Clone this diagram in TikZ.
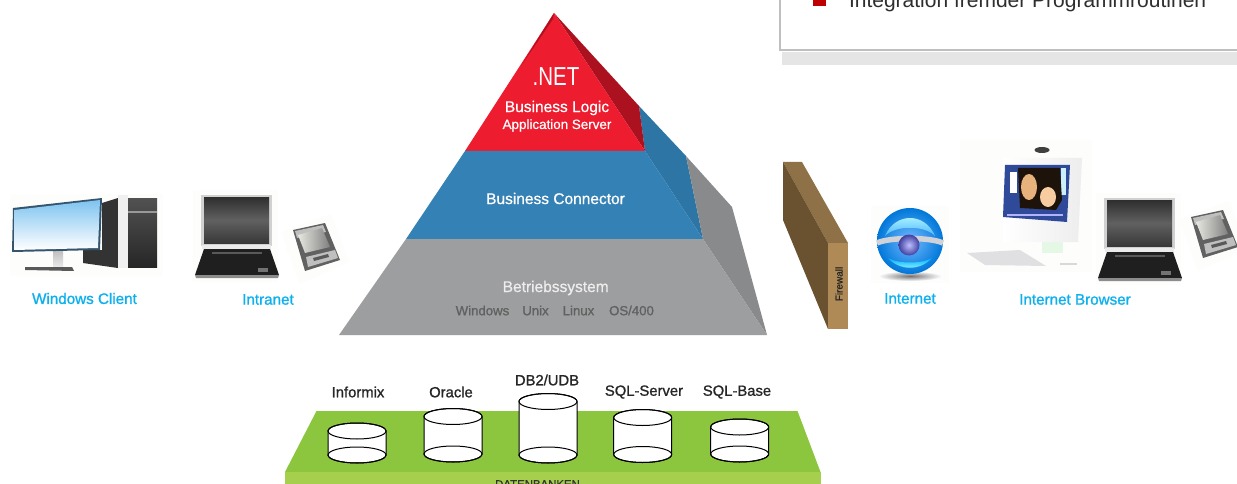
\documentclass[tikz,border=0pt]{standalone}
\usepackage{fontspec}
\setmainfont{Liberation Sans}
\newfontfamily\medf[FakeBold=1.1]{Liberation Sans}
\newfontfamily\semif[FakeBold=0.7]{Liberation Sans}
\newfontfamily\narrowf[FakeStretch=0.79]{Liberation Sans}
\definecolor{pRed}{HTML}{ED1C2E}
\definecolor{pRedD}{HTML}{AC1120}
\definecolor{pBlue}{HTML}{3481B5}
\definecolor{pBlueD}{HTML}{2C75A4}
\definecolor{pGrey}{HTML}{9D9EA0}
\definecolor{pGreyD}{HTML}{898A8C}
\definecolor{cyanlabel}{HTML}{0DB0EE}
\definecolor{dbgreen}{HTML}{8CC63F}
\definecolor{dblight}{HTML}{A6CF4E}
\definecolor{fwtop}{HTML}{8E7146}
\definecolor{fwleft}{HTML}{6A5230}
\definecolor{fwfront}{HTML}{AF8A56}
\definecolor{halo}{HTML}{FDFDFC}
\definecolor{monedge}{HTML}{35556F}
\definecolor{monblue}{HTML}{7EC3F0}
\definecolor{picblue}{HTML}{2E4A98}
\tikzset{
  x=1pt,y=-1pt,
  txt/.style={inner sep=0pt,outer sep=0pt,align=center},
  clientlabel/.style={txt,text=cyanlabel,font=\medf\fontsize{15.2}{17}\selectfont},
  dblabel/.style={txt,text=black!85,font=\medf\fontsize{14.8}{16}\selectfont},
  oslabel/.style={txt,text=black!62,font=\medf\fontsize{13.2}{15}\selectfont},
  whitelabel/.style={txt,text=white,font=\semif\fontsize{15.5}{17}\selectfont},
  cyl/.style={draw=black,line width=1pt,fill=white},
}
% cylinder: x-centre, top y, bottom y
\newcommand\dbcyl[3]{%
  \path[cyl] (#1-29,#2) -- (#1-29,#3) arc[start angle=180,end angle=360,x radius=29,y radius=-8]
     -- (#1+29,#2) arc[start angle=0,end angle=180,x radius=29,y radius=-8] -- cycle;
  \draw[cyl,fill=none] (#1,#2) ellipse[x radius=29,y radius=8];
  \draw[cyl,fill=none] (#1,#3) ellipse[x radius=29,y radius=8];
}
\newcommand\laptopicon[2]{%
  \begin{scope}[shift={(#1,#2)}]
    \fill[halo] (193,190) rectangle (278,282);
    \fill[black!18] (201,195) rectangle (272,246);
    \shade[top color=black!82,bottom color=black!78,middle color=black!62] (204,197) rectangle (269,243);
    \fill[black!8] (202,245) rectangle (271,249);
    \fill[black!88] (204,249) -- (270,249) -- (279,275) -- (195,275) -- cycle;
    \fill[black!65] (212,252) rectangle (262,254);
    \fill[black!45] (195,275) -- (279,275) -- (278,278) -- (196,278) -- cycle;
    \fill[black!55] (258,268) rectangle (268,272);
  \end{scope}}
\newcommand\pdaicon[2]{%
  \begin{scope}[shift={(#1,#2)}]
    \fill[halo] (281,232) -- (331,214) -- (349,262) -- (300,284) -- cycle;
    \fill[black!62] (293,230) -- (325,223) -- (340,260) -- (305,271) -- cycle;
    \fill[black!25] (295,231) -- (323,225) -- (326,232) -- (297,238) -- cycle;
    \shade[left color=yellow!22!black!12,right color=black!50] (298,235) -- (322,228) -- (330,247) -- (305,253) -- cycle;
    \fill[black!25] (306,257) -- (335,250) -- (338,258) -- (308,267) -- cycle;
    \fill[black!65] (313,258) -- (328,254) -- (329,257) -- (314,261) -- cycle;
  \end{scope}}
\begin{document}
\begin{tikzpicture}
\useasboundingbox (0,0) rectangle (1237,484);
\fill[white] (0,0) rectangle (1237,484);

% ---------- top right box
\fill[black!10] (782,52) rectangle (1237,65);
\draw[black!25,line width=2pt] (780,-3) -- (780,50.5) -- (1240,50.5);
\fill[red!75!black] (813,-1) rectangle (826,6);
\node[txt,anchor=base west,text=black!82,font=\fontsize{21}{23}\selectfont] (toptext) at (849,8) {Integration fremder Programmroutinen};

% ---------- pyramid
\fill[pBlueD] (639,106) -- (686,156) -- (703,239) -- (645,151) -- cycle;
\fill[pGreyD] (686,156) -- (732,207) -- (767,335) -- (703,239) -- cycle;
\fill[pRedD] (554,13) -- (639,106) -- (645,151) -- cycle;
\fill[pRed] (554,13) -- (645,151) -- (465,151) -- cycle;
\fill[pRedD] (554,13) -- (521,66) -- (553,19) -- cycle;
\fill[pBlue] (465,151) -- (645,151) -- (703,239) -- (406,239) -- cycle;
\fill[pGrey] (406,239) -- (703,239) -- (767,335) -- (339,335) -- cycle;

\node[txt,text=white,font=\narrowf\fontsize{26}{28}\selectfont] (net) at (556,76.5) {.NET};
\node[whitelabel] (logic) at (557,108) {Business Logic};
\node[txt,text=white,font=\semif\fontsize{13.4}{15}\selectfont] (appserver) at (557,125.5) {Application Server};
\node[whitelabel] (connector) at (555.5,198.5) {Business Connector};
\node[whitelabel,text=white!93!black] (betrieb) at (555.7,288) {Betriebssystem};
\node[oslabel] (oswin) at (482.5,310.5) {Windows};
\node[oslabel] (osunix) at (535.5,310.5) {Unix};
\node[oslabel] (oslinux) at (578.5,310.5) {Linux};
\node[oslabel] (osfour) at (631.5,310.5) {OS/400};

% ---------- databases
\fill[dbgreen] (316.5,411) -- (797.5,411) -- (820.5,472) -- (285,472) -- cycle;
\fill[dblight] (285,472) rectangle (820.5,484);
\dbcyl{357}{431}{455}
\dbcyl{453}{416.5}{454}
\dbcyl{548}{401.5}{455}
\dbcyl{642.7}{417.5}{454.5}
\dbcyl{739.7}{427}{454}
\node[dblabel] (informix) at (358,392) {Informix};
\node[dblabel] (oracle) at (451,392) {Oracle};
\node[dblabel] (db2) at (547,380) {DB2/UDB};
\node[dblabel] (sqlserver) at (644,392) {SQL-Server};
\node[dblabel] (sqlbase) at (737,392) {SQL-Base};
\node[txt,anchor=base,text=black!80,font=\medf\fontsize{11.4}{12}\selectfont] (datenbanken) at (537.5,488) {DATENBANKEN};

% ---------- firewall
\fill[fwtop] (783,162) -- (802,162) -- (848,243) -- (828,243) -- cycle;
\fill[fwleft] (783,162) -- (828,243) -- (828,329) -- (783,220) -- cycle;
\fill[fwfront] (828,243) rectangle (848,329);
\node[txt,rotate=90,text=black!85,font=\medf\fontsize{10}{11}\selectfont] (firewall) at (839,284) {Firewall};

% ---------- windows client
\fill[halo] (10,194) rectangle (163,276);
\fill[black!80] (102,203) -- (118,198) -- (118,268) -- (83,263) -- (83,250) -- (102,250) -- cycle;
\fill[black!6] (118,195) rectangle (128,268);
\shade[top color=black!68,bottom color=black!85] (128,198) rectangle (157,267);
\fill[black!40] (128,211) rectangle (157,213);
\shade[top color=black!25,bottom color=black!8] (53,251) rectangle (63,267);
\fill[black!65] (25,267) -- (72,267) -- (74,271) -- (25,270) -- cycle;
\fill[monedge] (13,208) -- (102,198) -- (100,250) -- (12,252) -- cycle;
\shade[left color=monblue,right color=white,shading angle=0] (14,210) -- (100,200) -- (98,248) -- (14,250) -- cycle;

% ---------- intranet devices
\laptopicon{0}{0}
\pdaicon{0}{0}

% ---------- internet globe
\fill[halo] (871,206) rectangle (949,283);
\shade[inner color=black!55,outer color=white] (910,276) ellipse[x radius=32,y radius=5];
\shade[inner color=cyan!50!blue!55!white,outer color=blue!45!cyan!85!black] (910,241) circle[radius=33];
\shade[top color=cyan!25!white,bottom color=cyan!60!blue!70!white] (885,236) .. controls (895,212) and (925,212) .. (935,236) .. controls (925,225) and (895,225) .. (885,236) -- cycle;
\shade[top color=cyan!70!blue,bottom color=cyan!35!white] (888,258) .. controls (900,271) and (920,271) .. (932,258) .. controls (922,264) and (898,264) .. (888,258) -- cycle;
\draw[blue!15!black!18,line width=5.5pt] (877,243) .. controls (890,237) and (930,237) .. (943,243);
\shade[inner color=blue!25!white,outer color=blue!50!black!75] (909,245) circle[radius=10.5];

% ---------- internet browser devices
\fill[halo] (960,140) rectangle (1092,272);
\shade[left color=white,right color=black!7] (1003,158) -- (1082,158) -- (1078,242) -- (1003,242) -- cycle;
\fill[black!75] (1042,150) ellipse[x radius=7.5,y radius=3];
\fill[picblue] (1005,165) -- (1070,165) -- (1067,222) -- (1003,217) -- cycle;
\fill[white] (1010,172) rectangle (1017,193);
\fill[cyan!20] (1061,168) rectangle (1066,195);
\fill[black!85!brown] (1018,168) -- (1060,168) -- (1062,200) -- (1056,210) -- (1020,208) -- cycle;
\fill[brown!60!orange!60!white] (1029,187) ellipse[x radius=8,y radius=13];
\fill[brown!30!orange!40!white] (1048,197) ellipse[x radius=8,y radius=10];
\fill[white!70!blue] (1007,214) rectangle (1063,216);
\fill[black!30!green!10!white] (1042,242) rectangle (1063,253);
\fill[blue!5!black!12] (967,253) -- (1020,250) -- (1046,266) -- (985,265) -- cycle;
\fill[black!15] (1060,263) rectangle (1077,265);
\laptopicon{903}{3}
\pdaicon{898}{-13}

% ---------- client labels
\node[clientlabel] (windows) at (84.5,298.5) {Windows Client};
\node[clientlabel] (intranet) at (268,299.5) {Intranet};
\node[clientlabel] (internet) at (910,298.5) {Internet};
\node[clientlabel] (browser) at (1075,299.5) {Internet Browser};
\end{tikzpicture}
\end{document}
